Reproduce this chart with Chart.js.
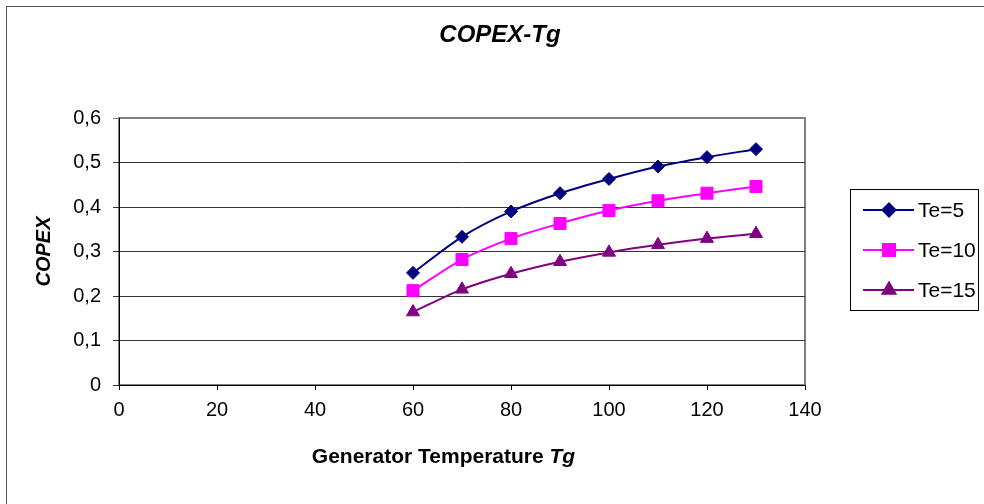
<!DOCTYPE html>
<html>
<head>
<meta charset="utf-8">
<script src="https://cdn.jsdelivr.net/npm/chart.js@4/dist/chart.umd.min.js"></script>
<style>
  html, body { margin: 0; padding: 0; background: #fff; overflow: hidden; }
  #wrap { position: relative; width: 984px; height: 504px; }
</style>
</head>
<body>
<div id="wrap"><canvas id="copexChart" width="984" height="504"></canvas></div>
<script>
const tgValues = [60, 70, 80, 90, 100, 110, 120, 130];
const copexTe5 = [0.252, 0.333, 0.390, 0.431, 0.463, 0.491, 0.512, 0.530];
const copexTe10 = [0.212, 0.282, 0.329, 0.363, 0.392, 0.414, 0.431, 0.446];
const copexTe15 = [0.164, 0.215, 0.250, 0.277, 0.298, 0.315, 0.329, 0.340];
const seriesNames = ['Te=5', 'Te=10', 'Te=15'];
const xTicks = [0, 20, 40, 60, 80, 100, 120, 140];
const yTicks = [0, 0.1, 0.2, 0.3, 0.4, 0.5, 0.6];

const FONT = "'Liberation Sans', Arial, sans-serif";

function points(values) {
  return tgValues.map((t, i) => ({ x: t, y: values[i] }));
}

function makeDataset(label, values, color, style, radius) {
  return {
    label,
    data: points(values),
    borderColor: color,
    backgroundColor: color,
    borderWidth: 2,
    pointStyle: style,
    pointRadius: radius,
    pointHoverRadius: radius,
    pointBorderWidth: 1,
    tension: 0.3,
    fill: false
  };
}

// frame, titles and boxed legend drawn on the canvas
const excelFrame = {
  id: 'excelFrame',
  beforeDraw(chart) {
    const { ctx, chartArea: a } = chart;
    ctx.save();
    ctx.strokeStyle = '#555';
    ctx.lineWidth = 1;
    ctx.strokeRect(6.5, 6.5, 1000, 520);
    ctx.strokeStyle = '#808080';
    ctx.lineWidth = 2;
    ctx.strokeRect(a.left, a.top, a.right - a.left, a.bottom - a.top);
    ctx.restore();
  },
  afterDraw(chart) {
    const { ctx, chartArea: a } = chart;
    ctx.save();
    ctx.fillStyle = '#000';
    ctx.textBaseline = 'middle';

    ctx.textAlign = 'center';
    ctx.font = `italic bold 24px ${FONT}`;
    ctx.fillText('COPEX-Tg', 500, 35);

    // x axis title: bold text with italic "Tg"
    const partA = 'Generator Temperature ';
    const partB = 'Tg';
    ctx.font = `bold 21px ${FONT}`;
    const wA = ctx.measureText(partA).width;
    ctx.font = `italic bold 21px ${FONT}`;
    const wB = ctx.measureText(partB).width;
    const startX = 443.5 - (wA + wB) / 2;
    ctx.textAlign = 'left';
    ctx.font = `bold 21px ${FONT}`;
    ctx.fillText(partA, startX, 457);
    ctx.font = `italic bold 21px ${FONT}`;
    ctx.fillText(partB, startX + wA, 457);

    // y axis title
    ctx.save();
    ctx.translate(44, (a.top + a.bottom) / 2);
    ctx.rotate(-Math.PI / 2);
    ctx.textAlign = 'center';
    ctx.font = `italic bold 20px ${FONT}`;
    ctx.fillText('COPEX', 0, 0);
    ctx.restore();

    // legend box
    ctx.strokeStyle = '#000';
    ctx.lineWidth = 1;
    ctx.strokeRect(850.5, 189.5, 128, 121);
    const rows = [210, 250, 290];
    chart.data.datasets.forEach((ds, i) => {
      const y = rows[i];
      ctx.strokeStyle = ds.borderColor;
      ctx.lineWidth = 2;
      ctx.beginPath();
      ctx.moveTo(863, y);
      ctx.lineTo(914, y);
      ctx.stroke();
      ctx.fillStyle = ds.backgroundColor;
      Chart.helpers.drawPoint(ctx, {
        pointStyle: ds.pointStyle,
        radius: ds.pointRadius,
        borderWidth: 1,
        rotation: 0
      }, 889, y);
      ctx.fill();
      ctx.fillStyle = '#000';
      ctx.textAlign = 'left';
      ctx.font = `21px ${FONT}`;
      ctx.fillText(seriesNames[i], 918, y + 1);
    });
    ctx.restore();
  }
};

new Chart(document.getElementById('copexChart'), {
  type: 'line',
  data: {
    datasets: [
      makeDataset(seriesNames[0], copexTe5, '#000080', 'rectRot', 6.5),
      makeDataset(seriesNames[1], copexTe10, '#FF00FF', 'rect', 8.5),
      makeDataset(seriesNames[2], copexTe15, '#800080', 'triangle', 7.5)
    ]
  },
  options: {
    responsive: false,
    animation: false,
    layout: { padding: { top: 118, right: 179, left: 0, bottom: 0 } },
    plugins: {
      legend: { display: false },
      tooltip: { enabled: false },
      title: { display: false }
    },
    scales: {
      x: {
        type: 'linear',
        min: xTicks[0],
        max: xTicks[xTicks.length - 1],
        afterBuildTicks: (scale) => { scale.ticks = xTicks.map((v) => ({ value: v })); },
        afterFit: (scale) => { scale.height = 119; },
        grid: { drawOnChartArea: false, drawTicks: true, tickLength: 5, color: '#000' },
        border: { color: '#000', width: 1 },
        ticks: { color: '#000', padding: 8, maxRotation: 0, font: { family: FONT, size: 20 } }
      },
      y: {
        min: yTicks[0],
        max: yTicks[yTicks.length - 1],
        afterBuildTicks: (scale) => { scale.ticks = yTicks.map((v) => ({ value: v })); },
        afterFit: (scale) => { scale.width = 119; },
        grid: {
          color: (c) => (c.tick && c.tick.value === 0.6 ? '#808080' : '#333'),
          tickLength: 6,
          drawTicks: true
        },
        border: { color: '#000', width: 1 },
        ticks: {
          color: '#000',
          padding: 12,
          font: { family: FONT, size: 20 },
          callback: (v) => (v === 0 ? '0' : v.toFixed(1).replace('.', ','))
        }
      }
    }
  },
  plugins: [excelFrame]
});
</script>
</body>
</html>
